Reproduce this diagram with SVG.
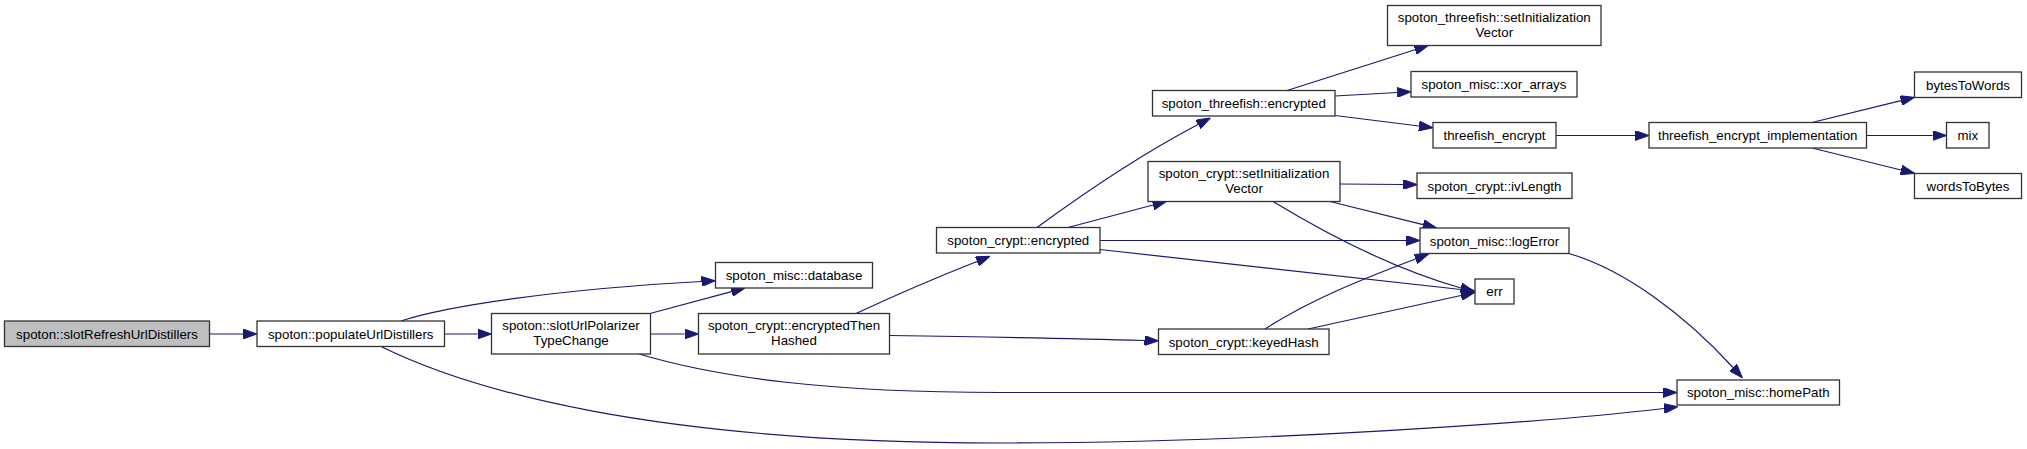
<svg xmlns="http://www.w3.org/2000/svg" width="2027" height="449" viewBox="0 0 2027 449">
<defs>
<style>
.n rect{fill:#ffffff;stroke:#333333;stroke-width:1.3}
.n.root rect{fill:#bfbfbf}
.n text{font-family:"Liberation Sans",Arial,Helvetica,sans-serif;font-size:13.3px;fill:#000000;text-anchor:middle}
.e path{fill:none;stroke:#191970;stroke-width:1.2;marker-end:url(#ah)}
</style>
<marker id="ah" viewBox="0 0 14 10" markerWidth="14" markerHeight="10" refX="0" refY="5" orient="auto" markerUnits="userSpaceOnUse">
<path d="M0,0 L14,5 L0,10 z" fill="#191970" stroke="#191970" stroke-width="1"/>
</marker>
</defs>
<rect x="0" y="0" width="2027" height="449" fill="#ffffff"/>
<g id="edges" class="e">
<path d="M209.5,334 L243,334"/>
<path d="M444.5,334 L477.5,334"/>
<path d="M401,321 C447,306 560,289 701.5,281.5"/>
<path d="M650,313.5 L731.5,291.6"/>
<path d="M650.5,334 L684.5,334"/>
<path d="M639,354 C720,378 830,392.5 1000,392.5 L1663,392.5"/>
<path d="M382,347 C470,390 650,443 1000,443 C1250,443 1550,422 1664,408.5"/>
<path d="M856,313.5 C885,300 935,278 977,261.5"/>
<path d="M889.5,335.5 C960,336.5 1060,338 1144.5,340.5"/>
<path d="M1037,227.5 C1080,196 1140,155 1198,124.5"/>
<path d="M1068,227.5 L1153,205"/>
<path d="M1100,240.5 L1406,240.5"/>
<path d="M1100,249.5 L1461,289.5"/>
<path d="M1340,184 L1403,184.5"/>
<path d="M1330,201.5 L1423,224.6"/>
<path d="M1273,201.5 C1320,230 1390,268 1461,288"/>
<path d="M1265,329 C1310,300 1360,280 1415.5,259"/>
<path d="M1308,329 L1461,295.5"/>
<path d="M1287,90.5 L1415,49.7"/>
<path d="M1335,96 L1397,92.5"/>
<path d="M1335,115.5 L1419,126"/>
<path d="M1556,135.5 L1635,135.5"/>
<path d="M1812,122.5 L1901,100.6"/>
<path d="M1866.5,135.5 L1932.5,135.5"/>
<path d="M1812,148 L1901,170"/>
<path d="M1569,253.5 C1625,270 1685,315 1733,367.5"/>
</g>
<g id="node_slotRefreshUrlDistillers" class="n root">
<rect x="4.5" y="321" width="205" height="25.5"/>
<text x="107" y="338.5">spoton::slotRefreshUrlDistillers</text>
</g>
<g id="node_populateUrlDistillers" class="n">
<rect x="257" y="321" width="187.5" height="25.5"/>
<text x="350.75" y="338.5">spoton::populateUrlDistillers</text>
</g>
<g id="node_slotUrlPolarizerTypeChange" class="n">
<rect x="491.5" y="313.5" width="159" height="40.5"/>
<text x="571" y="330">spoton::slotUrlPolarizer</text>
<text x="571" y="344.5">TypeChange</text>
</g>
<g id="node_database" class="n">
<rect x="715.5" y="262.5" width="157" height="25.5"/>
<text x="794" y="280">spoton_misc::database</text>
</g>
<g id="node_encryptedThenHashed" class="n">
<rect x="698.5" y="313.5" width="191" height="40.5"/>
<text x="794" y="330">spoton_crypt::encryptedThen</text>
<text x="794" y="344.5">Hashed</text>
</g>
<g id="node_crypt_encrypted" class="n">
<rect x="936.5" y="227.5" width="163.5" height="25.5"/>
<text x="1018.25" y="245">spoton_crypt::encrypted</text>
</g>
<g id="node_crypt_setInitializationVector" class="n">
<rect x="1148" y="161.5" width="192" height="40"/>
<text x="1244" y="178">spoton_crypt::setInitialization</text>
<text x="1244" y="192.5">Vector</text>
</g>
<g id="node_keyedHash" class="n">
<rect x="1158.5" y="329" width="170.5" height="25.5"/>
<text x="1243.75" y="346.5">spoton_crypt::keyedHash</text>
</g>
<g id="node_threefish_encrypted" class="n">
<rect x="1152.5" y="90.5" width="182.5" height="25.5"/>
<text x="1243.75" y="108">spoton_threefish::encrypted</text>
</g>
<g id="node_threefish_setInitializationVector" class="n">
<rect x="1387.5" y="5.5" width="213.5" height="40"/>
<text x="1494.25" y="22">spoton_threefish::setInitialization</text>
<text x="1494.25" y="36.5">Vector</text>
</g>
<g id="node_xor_arrays" class="n">
<rect x="1411" y="71.5" width="166" height="25.5"/>
<text x="1494" y="89">spoton_misc::xor_arrays</text>
</g>
<g id="node_threefish_encrypt" class="n">
<rect x="1433" y="122.5" width="123" height="25.5"/>
<text x="1494.5" y="140">threefish_encrypt</text>
</g>
<g id="node_ivLength" class="n">
<rect x="1417" y="173" width="155" height="25.5"/>
<text x="1494.5" y="190.5">spoton_crypt::ivLength</text>
</g>
<g id="node_logError" class="n">
<rect x="1420" y="228" width="149" height="25.5"/>
<text x="1494.5" y="245.5">spoton_misc::logError</text>
</g>
<g id="node_err" class="n">
<rect x="1475" y="279" width="39" height="25"/>
<text x="1494.5" y="296">err</text>
</g>
<g id="node_homePath" class="n">
<rect x="1677" y="380" width="162.5" height="25"/>
<text x="1758.25" y="397">spoton_misc::homePath</text>
</g>
<g id="node_threefish_encrypt_implementation" class="n">
<rect x="1649" y="122.5" width="217.5" height="25.5"/>
<text x="1757.75" y="140">threefish_encrypt_implementation</text>
</g>
<g id="node_bytesToWords" class="n">
<rect x="1914.5" y="72" width="107" height="25.5"/>
<text x="1968" y="89.5">bytesToWords</text>
</g>
<g id="node_mix" class="n">
<rect x="1946.5" y="122.5" width="42.5" height="25.5"/>
<text x="1967.75" y="140">mix</text>
</g>
<g id="node_wordsToBytes" class="n">
<rect x="1914.5" y="173.5" width="107" height="25"/>
<text x="1968" y="190.5">wordsToBytes</text>
</g>
</svg>
